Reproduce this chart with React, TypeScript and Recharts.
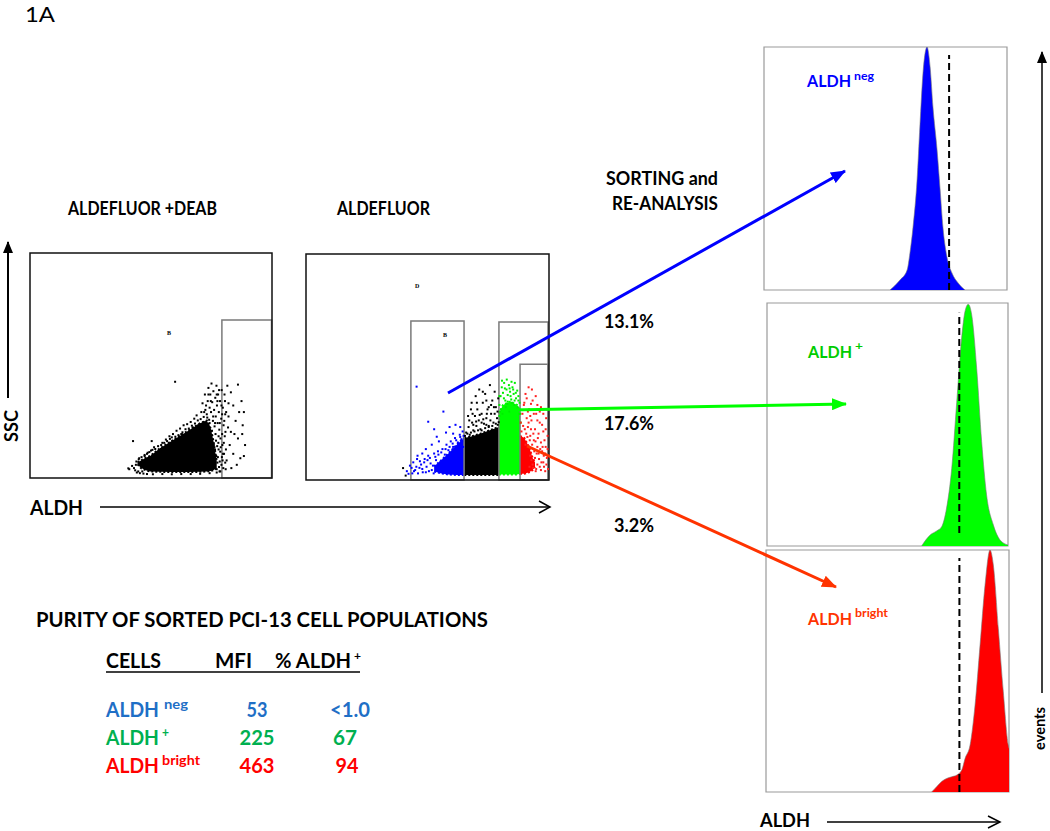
import React from 'react';
import { ComposedChart, AreaChart, Area, Scatter, XAxis, YAxis, ReferenceArea, ReferenceLine } from 'recharts';

// ---------- axis tick definitions (channels 0-1024, 4 log decades) ----------
const DECADES = [0, 1, 2, 3];
const LOG_FACTORS = [1, 2, 3, 4, 5, 6, 7, 8, 9];
const LOG_TICKS = [...DECADES.flatMap((d) => LOG_FACTORS.map((k) => Math.round(256 * (d + Math.log10(k))))), 1024];
const SSC_TICKS = [0, 102, 205, 307, 410, 512, 614, 717, 819, 922, 1024];
const EVENT_TICKS = [0, 12.5, 25, 37.5, 50, 62.5, 75, 87.5, 100];

// ---------- ALDEFLUOR + DEAB scatter (ALDH channel, SSC channel) ----------
const deabCore = [
  { x: 455, black: [62, 72] },
  { x: 470, black: [45, 80] },
  { x: 490, black: [35, 92] },
  { x: 508, black: [30, 100] },
  { x: 550, black: [28, 135] },
  { x: 606, black: [27, 173] },
  { x: 663, black: [27, 211] },
  { x: 719, black: [28, 249] },
  { x: 748, black: [30, 262] },
  { x: 765, black: [32, 225] },
  { x: 776, black: [35, 170] },
  { x: 790, black: [45, 80] },
];
const deabDots: number[][] = [
  [725, 300], [730, 340], [735, 255], [740, 380], [742, 310], [748, 290], [752, 350], [755, 410], [758, 265], [760, 320],
  [763, 380], [766, 300], [768, 430], [771, 345], [774, 260], [776, 395], [779, 310], [781, 235], [784, 365], [786, 280],
  [789, 420], [791, 330], [794, 250], [796, 380], [799, 300], [801, 220], [804, 350], [806, 180], [809, 270], [811, 400],
  [814, 150], [816, 320], [819, 240], [821, 110], [824, 190], [826, 290], [829, 130], [797, 160], [785, 200], [770, 215],
  [757, 235], [745, 230], [733, 220], [720, 205], [805, 120], [795, 95], [815, 80], [810, 60], [800, 50], [790, 40],
  [782, 60], [788, 100], [798, 130], [812, 95], [818, 45], [826, 70], [803, 75], [792, 145], [820, 160], [828, 40],
  [835, 420], [850, 390], [880, 425], [860, 330], [895, 350], [905, 300], [840, 280], [870, 260], [900, 240], [850, 210],
  [880, 180], [910, 150], [845, 150], [860, 110], [890, 90], [832, 80], [875, 60], [905, 100], [840, 340], [865, 200],
  [885, 300], [838, 230], [852, 45], [898, 200],
  [420, 40], [432, 55], [445, 35], [450, 75], [462, 90], [475, 30], [485, 105], [498, 115], [512, 125], [525, 140], [440, 45], [458, 30],
  [560, 160], [575, 175], [590, 190], [605, 200], [620, 215], [635, 225], [650, 240], [665, 245], [680, 255], [695, 270],
  [705, 285], [712, 240], [690, 230], [640, 200], [600, 185],
  [614, 438], [436, 168], [515, 168], [416, 44],
  [460, 85], [472, 95], [485, 100], [495, 110], [505, 118], [518, 128], [530, 132], [542, 145], [555, 150], [568, 160],
  [580, 168], [592, 178], [615, 188], [628, 195], [645, 208], [658, 222], [672, 225], [685, 238], [698, 248], [710, 262],
  [722, 268], [735, 278], [750, 275], [760, 250],
  [448, 60], [452, 25], [465, 22], [480, 20], [495, 18], [520, 17], [560, 18], [600, 17], [640, 18], [680, 18], [720, 19],
  [760, 22], [790, 25], [805, 30],
  [762, 180], [767, 140], [772, 100], [777, 60], [783, 130], [787, 170], [793, 70], [798, 190], [802, 30], [807, 140],
  [813, 200], [817, 110], [822, 260], [825, 350], [827, 210], [830, 300], [765, 350], [775, 280], [783, 250], [793, 350],
  [803, 250], [813, 290], [823, 380], [778, 150], [800, 400], [755, 380], [745, 330], [737, 300], [790, 380], [810, 330],
];
const deabGates = [{ x1: 812, x2: 1022, y1: 0, y2: 719 }];

// ---------- ALDEFLUOR scatter ----------
const aldCore = [
  { x: 540, blue: [38, 62] },
  { x: 570, blue: [30, 90] },
  { x: 600, blue: [25, 120] },
  { x: 635, blue: [23, 160] },
  { x: 667, blue: [23, 192], black: [23, 190] },
  { x: 700, black: [23, 198] },
  { x: 740, black: [23, 212] },
  { x: 780, black: [23, 228] },
  { x: 813, black: [23, 240], green: [25, 300] },
  { x: 830, green: [25, 340] },
  { x: 860, green: [25, 355] },
  { x: 890, green: [25, 340] },
  { x: 902, green: [28, 315], red: [28, 200] },
  { x: 920, red: [28, 190] },
  { x: 940, red: [35, 150] },
  { x: 955, red: [45, 100] },
  { x: 965, red: [60, 80] },
];
const aldBlueDots: number[][] = [
  [455, 40], [465, 60], [472, 30], [480, 85], [490, 50], [500, 95], [505, 35], [515, 110], [525, 75], [530, 45],
  [540, 120], [548, 90], [556, 130], [562, 60], [575, 140], [585, 115], [592, 160], [600, 135], [610, 175], [620, 150],
  [628, 190], [640, 170], [648, 205], [655, 185], [660, 220], [551, 196], [515, 264], [579, 310], [466, 423], [605, 240],
  [630, 250], [470, 110], [445, 55], [432, 28],
  [425, 40], [438, 65], [448, 30], [452, 80], [460, 45], [468, 95], [478, 55], [485, 70], [492, 35], [498, 80],
  [508, 60], [512, 90], [518, 40], [522, 100], [535, 65], [538, 30], [545, 105], [552, 50], [558, 115], [565, 80],
  [570, 125], [580, 95], [588, 140], [595, 70], [605, 150], [612, 120], [618, 165], [625, 140], [633, 180], [642, 160],
  [650, 195], [658, 175], [664, 200], [662, 150], [645, 130], [612, 95], [580, 60], [490, 120], [505, 140], [530, 160],
  [560, 175], [590, 215], [620, 210], [650, 240], [540, 230],
];
const aldBlackDots: number[][] = [
  [675, 215], [685, 240], [690, 205], [700, 260], [705, 225], [712, 290], [718, 245], [722, 320], [728, 270], [735, 230],
  [740, 300], [745, 350], [750, 255], [755, 390], [760, 280], [765, 320], [770, 240], [775, 430], [780, 300], [785, 360],
  [790, 260], [795, 400], [800, 330], [805, 280], [810, 370], [808, 250], [698, 350], [715, 380], [730, 410], [760, 360],
  [683, 290], [795, 300], [409, 54], [420, 20],
  [670, 200], [680, 210], [695, 215], [710, 220], [725, 225], [740, 225], [755, 235], [770, 245], [785, 245], [800, 255],
  [812, 262], [688, 270], [702, 300], [717, 265], [732, 295], [747, 275], [762, 300], [777, 270], [792, 330], [807, 310],
  [695, 320], [745, 400], [770, 330], [705, 250], [720, 350], [740, 260], [760, 250], [780, 340],
];
const aldGreenDots: number[][] = [
  [815, 340], [820, 380], [825, 420], [830, 395], [835, 440], [840, 360], [845, 410], [850, 385], [855, 430], [860, 400],
  [865, 365], [870, 420], [875, 390], [880, 440], [885, 370], [890, 405], [895, 380], [900, 350], [818, 310], [848, 345],
  [878, 340], [892, 330],
  [815, 290], [822, 320], [828, 300], [834, 370], [842, 330], [850, 355], [857, 310], [862, 380], [868, 350], [873, 410],
  [879, 360], [884, 395], [889, 320], [895, 360], [899, 300], [826, 450], [846, 455], [866, 445], [903, 300], [905, 260],
  [815, 380], [838, 415], [858, 415],
];
const aldRedDots: number[][] = [
  [905, 260], [912, 300], [918, 340], [925, 390], [930, 280], [935, 240], [940, 320], [945, 200], [950, 270], [955, 360],
  [960, 180], [965, 230], [970, 300], [975, 150], [980, 210], [985, 260], [990, 170], [995, 130], [1000, 220], [1005, 180],
  [1010, 150], [1015, 100], [1000, 80], [985, 60], [970, 50], [955, 70], [945, 110], [938, 420], [952, 410], [968, 380],
  [990, 330], [1012, 280], [925, 160], [965, 100], [1018, 200], [980, 120], [942, 60], [960, 140], [1002, 110],
  [908, 220], [915, 245], [922, 230], [928, 210], [933, 195], [938, 260], [943, 180], [948, 230], [953, 160], [958, 210],
  [962, 130], [967, 175], [972, 120], [977, 190], [982, 95], [987, 140], [992, 80], [997, 150], [1003, 60], [1008, 120],
  [1013, 70], [1018, 140], [1020, 50], [1008, 40], [990, 45], [975, 70], [968, 40], [958, 55], [950, 90], [935, 310],
  [945, 290], [960, 300], [975, 270], [995, 250], [1010, 230], [1000, 300], [985, 310], [920, 350], [930, 370], [948, 345],
  [975, 340], [1015, 320],
];
const aldGates = [
  { x1: 442, x2: 666, y1: 0, y2: 720 },
  { x1: 813, x2: 1020, y1: 0, y2: 716 },
  { x1: 902, x2: 1020, y1: 0, y2: 525 },
];

// ---------- re-analysis histograms (ALDH channel, % of peak events) ----------
const histNeg: number[][] = [
  [531, 0], [573, 4.1], [603, 8.2], [615, 15.2], [628, 25.9], [645, 45.3], [657, 67.5], [670, 89.3], [687, 100],
  [700, 91.8], [712, 75.3], [729, 58], [742, 41.6], [754, 25.9], [771, 13.6], [792, 7], [818, 2.9], [847, 0],
];
const histPos: number[][] = [
  [657, 0], [693, 4.5], [721, 6.2], [742, 7.9], [763, 15.6], [785, 32], [806, 59], [827, 85.6], [841, 96.4],
  [855, 99.5], [870, 95], [891, 73], [912, 43], [933, 21], [962, 8.6], [990, 2.5], [1024, 0.4],
];
const histBright: number[][] = [
  [698, 0], [719, 2.2], [740, 4.3], [761, 5.6], [783, 6.3], [804, 7], [825, 9.1], [839, 13.9], [860, 19.4],
  [881, 36], [902, 60.7], [923, 85.5], [944, 100], [958, 93.8], [979, 67.6], [1000, 41.4], [1021, 19.4], [1024, 18],
];
const cutNeg = { x: 780, y0: 0, y1: 96.7 };
const cutPos = { x: 817, y0: 5.3, y1: 96 };
const cutBright = { x: 815, y0: 0, y1: 96.7 };

// ---------- purity table ----------
const tableCells = ['ALDH', 'ALDH', 'ALDH'];
const tableSup = ['neg', '+', 'bright'];
const tableMfi = ['53', '225', '463'];
const tablePct = ['<1.0', '67', '94'];
const tableColors = ['#1f6fc6', '#00b050', '#ff0000'];

const toPts = (arr: number[][]) => arr.map(([x, y]) => ({ x, y }));
const toHist = (arr: number[][]) => arr.map(([x, v]) => ({ x, v }));

const FONT = 'Lato, "Open Sans", "DejaVu Sans", sans-serif';

type Frame = { x: number; y: number; w: number; h: number };
const M = { top: 2, right: 2, left: 5, bottom: 5 };

function dotShape(color: string) {
  return (p: any) => <rect x={p.cx - 1} y={p.cy - 1} width={2} height={2} fill={color} />;
}

function FlowPlot(props: {
  frame: Frame;
  core: any[];
  areas: { key: string; color: string }[];
  dots: { points: number[][]; color: string }[];
  gates: { x1: number; x2: number; y1: number; y2: number }[];
}) {
  const { frame, core, areas, dots, gates } = props;
  return (
    <div style={{ position: 'absolute', left: frame.x - M.left, top: frame.y - M.top }}>
      <ComposedChart width={frame.w + M.left + M.right} height={frame.h + M.top + M.bottom} data={core} margin={M}>
        <XAxis dataKey="x" type="number" domain={[0, 1024]} ticks={LOG_TICKS} interval={0} tick={false} tickSize={3}
          height={0} axisLine={false} allowDataOverflow tickLine={{ stroke: '#444' }} />
        <YAxis type="number" domain={[0, 1024]} ticks={SSC_TICKS} interval={0} tick={false} tickSize={3}
          width={0} axisLine={false} allowDataOverflow tickLine={{ stroke: '#444' }} />
        {areas.map((a) => (
          <Area key={a.key} dataKey={a.key} type="linear" fill={a.color} fillOpacity={1} stroke={a.color} strokeWidth={2}
            strokeDasharray="2 2" dot={false} activeDot={false} isAnimationActive={false} />
        ))}
        {dots.map((d, i) => (
          <Scatter key={i} data={toPts(d.points)} dataKey="y" fill={d.color} shape={dotShape(d.color)} isAnimationActive={false} />
        ))}
        {gates.map((g, i) => (
          <ReferenceArea key={i} x1={g.x1} x2={g.x2} y1={g.y1} y2={g.y2} stroke="#7a7a7a" strokeWidth={1.5} fill="none" fillOpacity={0} />
        ))}
        <ReferenceArea x1={0} x2={1024} y1={0} y2={1024} stroke="#111" strokeWidth={1.5} fill="none" fillOpacity={0} />
      </ComposedChart>
    </div>
  );
}

function Histogram(props: { frame: Frame; data: number[][]; color: string; cut: { x: number; y0: number; y1: number }; axis: string }) {
  const { frame, data, color, cut, axis } = props;
  return (
    <div style={{ position: 'absolute', left: frame.x - M.left, top: frame.y - M.top }}>
      <AreaChart width={frame.w + M.left + M.right} height={frame.h + M.top + M.bottom} data={toHist(data)} margin={M}>
        <XAxis dataKey="x" type="number" domain={[0, 1024]} ticks={LOG_TICKS} interval={0} tick={false} tickSize={3}
          height={0} axisLine={{ stroke: axis, strokeWidth: 2 }} allowDataOverflow tickLine={{ stroke: '#999' }} />
        <YAxis type="number" domain={[0, 100]} ticks={EVENT_TICKS} interval={0} tick={false} tickSize={3}
          width={0} axisLine={false} allowDataOverflow tickLine={{ stroke: '#999' }} />
        <ReferenceArea x1={0} x2={1024} y1={0} y2={100} stroke="#9a9a9a" strokeWidth={1.2} fill="none" fillOpacity={0} />
        <Area dataKey="v" type="monotone" fill={color} fillOpacity={1} stroke="#777" strokeWidth={0.6}
          dot={false} activeDot={false} isAnimationActive={false} />
        <ReferenceLine segment={[{ x: cut.x, y: cut.y0 }, { x: cut.x, y: cut.y1 }]} stroke="#000" strokeWidth={2} strokeDasharray="7 4" />
      </AreaChart>
    </div>
  );
}

function T(p: { x: number; y: number; s: number; c?: string; bold?: boolean; tl?: number; anchor?: string; rot?: boolean; children: any }) {
  const extra: any = {};
  if (p.tl) { extra.textLength = p.tl; extra.lengthAdjust = 'spacingAndGlyphs'; }
  return (
    <text x={p.x} y={p.y} fontSize={p.s} fill={p.c || '#000'} fontFamily={FONT} fontWeight={p.bold === false ? 400 : 700}
      textAnchor={(p.anchor as any) || 'start'} transform={p.rot ? `rotate(-90 ${p.x} ${p.y})` : undefined} {...extra}>
      {p.children}
    </text>
  );
}

// main word + superscript in one text element
function Sup(p: { x: number; y: number; s: number; ss: number; c: string; main: string; sup: string; tl: number; stl: number; gap: number; rise: number }) {
  return (
    <text x={p.x} y={p.y} fill={p.c} fontFamily={FONT} fontWeight={700} fontSize={p.s}>
      <tspan textLength={p.tl} lengthAdjust="spacingAndGlyphs">{p.main}</tspan>
      <tspan dx={p.gap} dy={-p.rise} fontSize={p.ss} textLength={p.stl} lengthAdjust="spacingAndGlyphs">{p.sup}</tspan>
    </text>
  );
}

export default function App() {
  return (
    <div style={{ position: 'absolute', left: 0, top: 0, width: 1050, height: 831, background: '#fff', overflow: 'hidden' }}>
      <FlowPlot frame={{ x: 30, y: 253, w: 242, h: 225 }} core={deabCore} areas={[{ key: 'black', color: '#000' }]}
        dots={[{ points: deabDots, color: '#000' }]} gates={deabGates} />
      <FlowPlot frame={{ x: 306, y: 254, w: 243, h: 226 }} core={aldCore}
        areas={[{ key: 'blue', color: '#0000ff' }, { key: 'black', color: '#000' }, { key: 'green', color: '#00ff00' }, { key: 'red', color: '#ff0000' }]}
        dots={[{ points: aldBlueDots, color: '#0000ff' }, { points: aldBlackDots, color: '#000' }, { points: aldGreenDots, color: '#00ee00' }, { points: aldRedDots, color: '#ff2020' }]}
        gates={aldGates} />
      <Histogram frame={{ x: 764, y: 47, w: 243, h: 243 }} data={histNeg} color="#0000ff" cut={cutNeg} axis="#aaa" />
      <Histogram frame={{ x: 767, y: 303, w: 241, h: 243 }} data={histPos} color="#00ff00" cut={cutPos} axis="#333" />
      <Histogram frame={{ x: 766, y: 550, w: 243, h: 242 }} data={histBright} color="#ff0000" cut={cutBright} axis="#444" />

      <svg width={1050} height={831} style={{ position: 'absolute', left: 0, top: 0, pointerEvents: 'none' }}>
        <defs>
          <marker id="hBlue" markerUnits="userSpaceOnUse" markerWidth={16} markerHeight={12} refX={14} refY={6} orient="auto">
            <path d="M0,0 L15,6 L0,12 z" fill="#0000ff" />
          </marker>
          <marker id="hGreen" markerUnits="userSpaceOnUse" markerWidth={16} markerHeight={12} refX={14} refY={6} orient="auto">
            <path d="M0,0 L15,6 L0,12 z" fill="#00ff00" />
          </marker>
          <marker id="hRed" markerUnits="userSpaceOnUse" markerWidth={16} markerHeight={12} refX={14} refY={6} orient="auto">
            <path d="M0,0 L15,6 L0,12 z" fill="#ff3300" />
          </marker>
          <marker id="hBlack" markerUnits="userSpaceOnUse" markerWidth={12} markerHeight={10} refX={11} refY={5} orient="auto">
            <path d="M0,0 L12,5 L0,10 z" fill="#000" />
          </marker>
        </defs>

        {/* sorting arrows */}
        <line x1={448} y1={393} x2={845} y2={171} stroke="#0000ff" strokeWidth={3} markerEnd="url(#hBlue)" />
        <line x1={510} y1={410} x2={846} y2={404} stroke="#00ff00" strokeWidth={3} markerEnd="url(#hGreen)" />
        <line x1={527} y1={446} x2={836} y2={587} stroke="#ff3300" strokeWidth={3} markerEnd="url(#hRed)" />

        {/* axes annotations */}
        <line x1={8} y1={398} x2={8} y2={242} stroke="#000" strokeWidth={2} markerEnd="url(#hBlack)" />
        <line x1={1042} y1={693} x2={1042} y2={52} stroke="#000" strokeWidth={1.5} markerEnd="url(#hBlack)" />
        <line x1={100} y1={507} x2={550} y2={507} stroke="#000" strokeWidth={1.5} />
        <polyline points="539,501 550,507 539,513" fill="none" stroke="#000" strokeWidth={1.5} />
        <line x1={827} y1={822} x2={1000} y2={822} stroke="#000" strokeWidth={1.5} />
        <polyline points="988,816 1000,822 988,828" fill="none" stroke="#000" strokeWidth={1.5} />

        {/* gate labels */}
        <text x={167} y={335} fontSize={6} fontFamily="serif" fontWeight={700} fill="#000">B</text>
        <text x={415} y={288} fontSize={6} fontFamily="serif" fontWeight={700} fill="#000">D</text>
        <text x={443} y={337} fontSize={6} fontFamily="serif" fontWeight={700} fill="#000">B</text>

        <T x={25} y={22} s={21} bold={false} tl={30}>1A</T>
        <T x={68} y={215} s={18} tl={149}>ALDEFLUOR +DEAB</T>
        <T x={337} y={215} s={18} tl={93}>ALDEFLUOR</T>
        <T x={606} y={185} s={18} tl={112}>SORTING and</T>
        <T x={612} y={210} s={18} tl={106}>RE-ANALYSIS</T>
        <T x={604} y={328} s={18} tl={50}>13.1%</T>
        <T x={604} y={430} s={18} tl={50}>17.6%</T>
        <T x={614} y={532} s={18} tl={40}>3.2%</T>
        <T x={30} y={515} s={21} tl={53}>ALDH</T>
        <T x={18} y={442} s={18} tl={32} rot>SSC</T>
        <T x={1045} y={750} s={16} tl={43} rot>events</T>
        <T x={760} y={827} s={19} tl={50}>ALDH</T>

        <Sup x={807} y={87} s={17} ss={12} c="#0000ff" main="ALDH" sup="neg" tl={44} stl={20} gap={3} rise={7} />
        <Sup x={808} y={358} s={17} ss={12} c="#00cc00" main="ALDH" sup="+" tl={44} stl={8} gap={3} rise={8} />
        <Sup x={808} y={625} s={17} ss={12} c="#ff3300" main="ALDH" sup="bright" tl={44} stl={33} gap={3} rise={8} />

        <T x={36} y={627} s={21} tl={452}>PURITY OF SORTED PCI-13 CELL POPULATIONS</T>
        <T x={106} y={668} s={21} tl={55}>CELLS</T>
        <T x={215} y={668} s={21} tl={37}>MFI</T>
        <Sup x={275} y={668} s={20} ss={12} c="#000" main="% ALDH" sup="+" tl={76} stl={7} gap={3} rise={8} />
        <line x1={106} y1={672} x2={360} y2={672} stroke="#000" strokeWidth={1.5} />

        {tableCells.map((c, i) => (
          <g key={i}>
            <Sup x={106} y={717 + i * 28} s={20} ss={13} c={tableColors[i]} main={c} sup={tableSup[i]} tl={53}
              stl={[24, 7, 38][i]} gap={i === 0 ? 5 : 3} rise={8} />
            <T x={257} y={717 + i * 28} s={21} anchor="middle" tl={[21, 35, 35][i]} c={tableColors[i]}>{tableMfi[i]}</T>
            <T x={[350, 345, 347][i]} y={717 + i * 28} s={21} anchor="middle" tl={[40, 24, 23][i]} c={tableColors[i]}>{tablePct[i]}</T>
          </g>
        ))}
      </svg>
    </div>
  );
}
